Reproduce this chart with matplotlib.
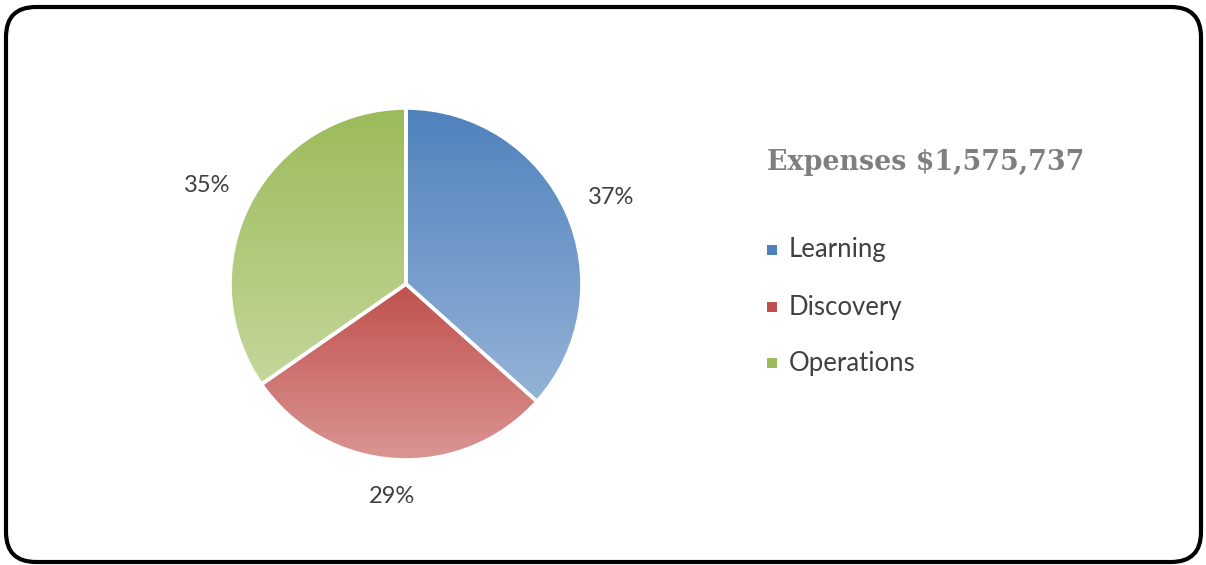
import numpy as np
import matplotlib
matplotlib.use("Agg")
import matplotlib.pyplot as plt
from matplotlib.patches import FancyBboxPatch, Rectangle
from matplotlib.colors import LinearSegmentedColormap

# ---- data ----
title = "Expenses $1,575,737"
categories = ["Learning", "Discovery", "Operations"]
values = [37, 29, 35]
top_colors = ["#4F81BD", "#C0504D", "#9BBB59"]
bottom_colors = ["#95B3D7", "#DA9694", "#C4D79B"]

W, H = 1206, 565
fig = plt.figure(figsize=(W / 100, H / 100), dpi=100)
fig.patch.set_facecolor("white")

# frame axes in pixel coords
bg = fig.add_axes([0, 0, 1, 1])
bg.set_xlim(0, W)
bg.set_ylim(H, 0)
bg.axis("off")
frame = FancyBboxPatch((6, 7), 1195, 555, boxstyle="round,pad=0,rounding_size=30",
                       fc="white", ec="black", lw=3.0)
bg.add_patch(frame)

# pie axes
cx, cy, r = 406, 284, 176
ax = fig.add_axes([(cx - r) / W, 1 - (cy + r) / H, 2 * r / W, 2 * r / H])

wedges, texts, autotexts = ax.pie(
    values, startangle=90, counterclock=False, radius=1,
    autopct="%1.0f%%", pctdistance=1.25,
    colors=top_colors,
    wedgeprops=dict(edgecolor="white", linewidth=2.6),
    textprops=dict(fontsize=17, color="#404040", family=["Lato", "DejaVu Sans"]),
)
ax.set_xlim(-1, 1)
ax.set_ylim(-1, 1)
ax.set_aspect("equal")
ax.axis("off")

grad = np.linspace(0, 1, 256).reshape(-1, 1)
for w, ct, cb in zip(wedges, top_colors, bottom_colors):
    verts = w.get_patch_transform().transform(w.get_path().vertices)
    x0, x1 = verts[:, 0].min(), verts[:, 0].max()
    y0, y1 = verts[:, 1].min(), verts[:, 1].max()
    cmap = LinearSegmentedColormap.from_list("g", [ct, cb])
    im = ax.imshow(grad, cmap=cmap, extent=[x0, x1, y0, y1], origin="upper",
                   aspect="auto", zorder=1.5, interpolation="bilinear")
    im.set_clip_path(w)
    w.set_facecolor("none")
    w.set_zorder(2)
ax.set_xlim(-1, 1)
ax.set_ylim(-1, 1)

# nudge label positions slightly along their direction (Excel outside-end look)
for t in autotexts:
    x, y = t.get_position()
    t.set_position((x * 1.02, y * 0.97))

# title
bg.text(767, 163, title, fontsize=19.4, fontweight="bold", color="#7F7F7F",
        family=["DejaVu Serif"], va="center", ha="left")

# legend
rows = [250, 307, 363]
for cat, c, yy in zip(categories, top_colors, rows):
    bg.add_patch(Rectangle((767, yy - 5), 10, 10, fc=c, ec="none"))
    bg.text(789, yy, cat, fontsize=18.5, color="#404040",
            family=["Lato", "DejaVu Sans"], va="center", ha="left")

fig.savefig("out.png", dpi=100)
